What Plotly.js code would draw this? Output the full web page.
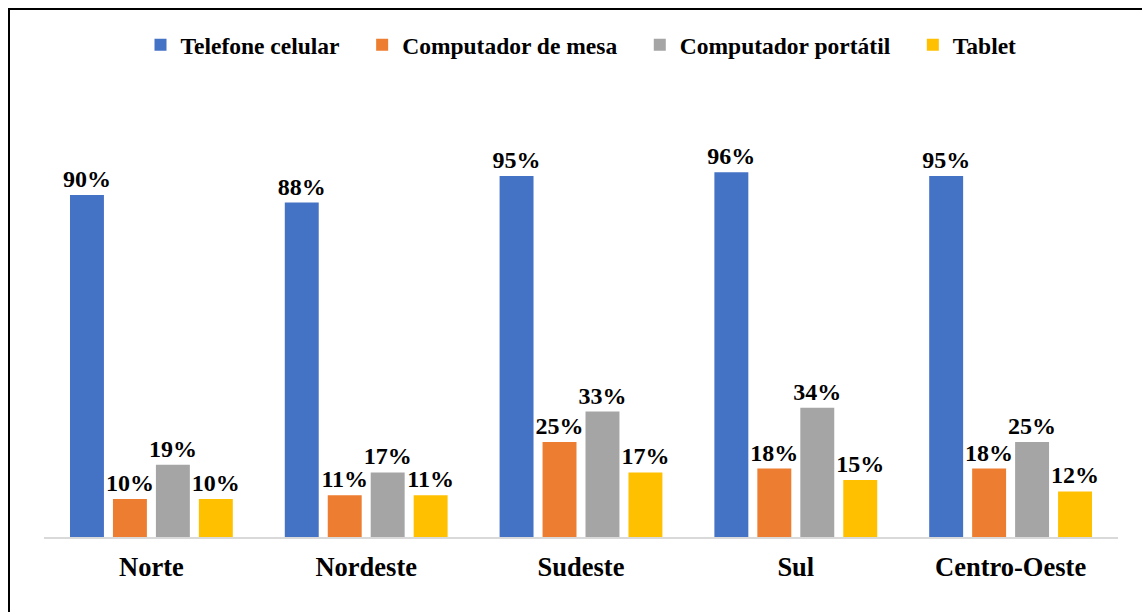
<!DOCTYPE html>
<html>
<head>
<meta charset="utf-8">
<script src="https://cdn.plot.ly/plotly-3.0.1.min.js"></script>
<style>
html,body{margin:0;padding:0;background:#fff;}
#chart{width:1142px;height:612px;}
</style>
</head>
<body>
<div id="chart"></div>
<script>
const regions = ["Norte", "Nordeste", "Sudeste", "Sul", "Centro-Oeste"];
const seriesNames = ["Telefone celular", "Computador de mesa", "Computador portátil", "Tablet"];
const telefoneCelular = [90, 88, 95, 96, 95];
const computadorMesa = [10, 11, 25, 18, 18];
const computadorPortatil = [19, 17, 33, 34, 25];
const tablet = [10, 11, 17, 15, 12];
const colors = ["#4472C4", "#ED7D31", "#A5A5A5", "#FFC000"];

const W = 1142, H = 612;
const mL = 44, mR = 24, mT = 100, mB = 75;
const pw = W - mL - mR, ph = H - mT - mB;
const px2x = p => (p - mL) / pw;
const py2y = p => (H - mB - p) / ph;

const fontFam = "Liberation Serif";
const values = [telefoneCelular, computadorMesa, computadorPortatil, tablet];
const pad = "\u00a0\u00a0\u00a0";

const traces = values.map((v, i) => ({
  type: "bar",
  name: "<b>" + seriesNames[i] + "</b>" + (i < values.length - 1 ? pad : ""),
  x: regions,
  y: v,
  marker: {color: colors[i]},
  text: v.map(n => "<b>" + n + "%</b>"),
  textposition: "outside",
  constraintext: "none",
  textfont: {family: fontFam, size: 24, color: "#000"},
  cliponaxis: false,
  hoverinfo: "none"
}));

const layout = {
  width: W, height: H,
  margin: {l: mL, r: mR, t: mT, b: mB},
  paper_bgcolor: "#fff",
  plot_bgcolor: "#fff",
  font: {family: fontFam, color: "#000"},
  barmode: "group",
  bargap: 0.2,
  bargroupgap: 0.21,
  showlegend: true,
  legend: {
    orientation: "h",
    x: 0.5, xanchor: "center",
    y: py2y(45), yanchor: "middle",
    font: {family: fontFam, size: 23.5, color: "#000"},
    itemclick: false
  },
  xaxis: {
    showline: true,
    linecolor: "#d9d9d9",
    linewidth: 2,
    ticks: "",
    ticklabelstandoff: 5,
    tickmode: "array",
    tickvals: regions,
    ticktext: regions.map(r => "<b>" + r + "</b>"),
    tickfont: {family: fontFam, size: 26.5, color: "#000"},
    showgrid: false,
    zeroline: false
  },
  yaxis: {
    range: [0, ph / 3.8],
    visible: false,
    showgrid: false,
    zeroline: false
  },
  shapes: [{
    type: "path",
    xref: "paper", yref: "paper",
    path: `M ${px2x(9)} ${py2y(H + 5)} L ${px2x(9)} ${py2y(9)} L ${px2x(W + 5)} ${py2y(9)}`,
    line: {color: "#000", width: 2}
  }]
};

Plotly.newPlot("chart", traces, layout, {displayModeBar: false});
</script>
</body>
</html>
